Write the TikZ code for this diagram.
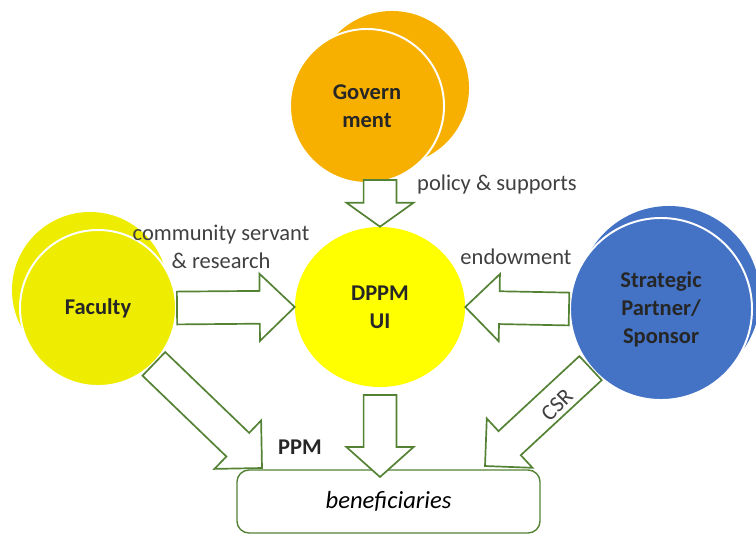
\documentclass[tikz,border=0pt]{standalone}
\usepackage{fontspec}
\setmainfont{Carlito}
\usepackage{xcolor}
\usepackage{tikz}
\usetikzlibrary{calc, shapes.geometric}

\definecolor{govorange}{RGB}{247,176,0}
\definecolor{facyellow}{RGB}{238,236,0}
\definecolor{uiyellow}{RGB}{255,255,0}
\definecolor{sponsorblue}{RGB}{68,114,196}
\definecolor{flowgreen}{RGB}{84,130,53}
\definecolor{labelgray}{RGB}{64,64,64}

\begin{document}
\begin{tikzpicture}[
                    x=0.025cm, y=-0.025cm,
                    bubble/.style={
                        circle,
                        inner sep=0pt,
                        align=center,
                        text=black!85,
                        font=\fontsize{16}{20}\selectfont\bfseries
                    },
                    front/.style={
                        draw=white,
                        line width=1.4pt
                    },
                    lbl/.style={
                        text=labelgray,
                        inner sep=1pt,
                        align=center,
                        font=\fontsize{16}{20}\selectfont
                    },
                    flow/.style={
                        draw=flowgreen,
                        fill=white,
                        line width=1.2pt,
                        line join=miter
                    },
                    % block arrow from start to tip, #1 = head length
                    fat/.style={
                        to path={
                            ($(\tikztotarget)!#1!(\tikztostart)$) coordinate (hb)
                            ($(\tikztostart)!0.41cm!90:(\tikztotarget)$)
                            -- ($(hb)!0.41cm!-90:(\tikztostart)$)
                            -- ($(hb)!0.84cm!-90:(\tikztostart)$)
                            -- (\tikztotarget)
                            -- ($(hb)!0.84cm!90:(\tikztostart)$)
                            -- ($(hb)!0.41cm!90:(\tikztostart)$)
                            -- ($(\tikztostart)!0.41cm!-90:(\tikztotarget)$)
                            -- cycle
                        }
                    },
                    fat/.default=0.85cm
                ]

                \useasboundingbox (0,0) rectangle (756,535);

                % Cercles arriere
                \node[bubble, fill=govorange, minimum size=3.85cm] (govback) at (392,88) {};
                \node[bubble, fill=facyellow, minimum size=3.9cm] (facback) at (90,290) {};
                \node[bubble, fill=sponsorblue, minimum size=4.55cm] (sponback) at (669,297) {};

                % Acteurs
                \node[bubble, front, fill=govorange, minimum size=3.85cm] (gov) at (367,106) {Govern\\ment};
                \node[bubble, front, fill=facyellow, minimum size=3.9cm] (fac) at (98,308) {Faculty};
                \node[bubble, front, fill=sponsorblue, minimum size=4.55cm] (spon) at (661,309) {Strategic\\Partner/\\Sponsor};
                \node[bubble, ellipse, fill=uiyellow, minimum width=4.25cm, minimum height=4cm] (dppm) at (380,307) {DPPM\\UI};

                % Boite du bas
                \node[draw=flowgreen, line width=1pt, rounded corners=0.3cm,
                      minimum width=7.575cm, minimum height=1.575cm,
                      font=\fontsize{17.5}{20}\selectfont\itshape] (benef) at (388.5,501.5) {beneficiaries};

                % Extremites des fleches
                \coordinate (govout) at (380,180);
                \coordinate (dppmout) at (380,395);
                \coordinate (dppmtip) at (380,477);
                \coordinate (ppmtip) at (262,468);
                \coordinate (csrtip) at (485,466);

                % Fleches
                \draw[flow, fat=0.6cm] (govout) to (dppm.north);
                \draw[flow, fat=0.875cm] (fac.east) to (dppm.west);
                \draw[flow, fat=0.85cm] (spon.west) to (dppm.east);
                \draw[flow, fat=0.84cm] (fac.south east) to (ppmtip);
                \draw[flow, fat=0.75cm] (dppmout) to (dppmtip);
                \draw[flow, fat=0.84cm] (spon.-140) to (csrtip);

                % Etiquettes
                \node[lbl] (policy) at (497,184) {policy \& supports};
                \node[lbl] (service) at (221,247) {community servant\\\& research};
                \node[lbl] (endow) at (516,257) {endowment};
                \node[lbl, text=black!85, font=\fontsize{16}{20}\selectfont\bfseries] (ppm) at (300,447) {PPM};
                \node[lbl, rotate=45] (csr) at (557,405) {CSR};

            \end{tikzpicture}
\end{document}
